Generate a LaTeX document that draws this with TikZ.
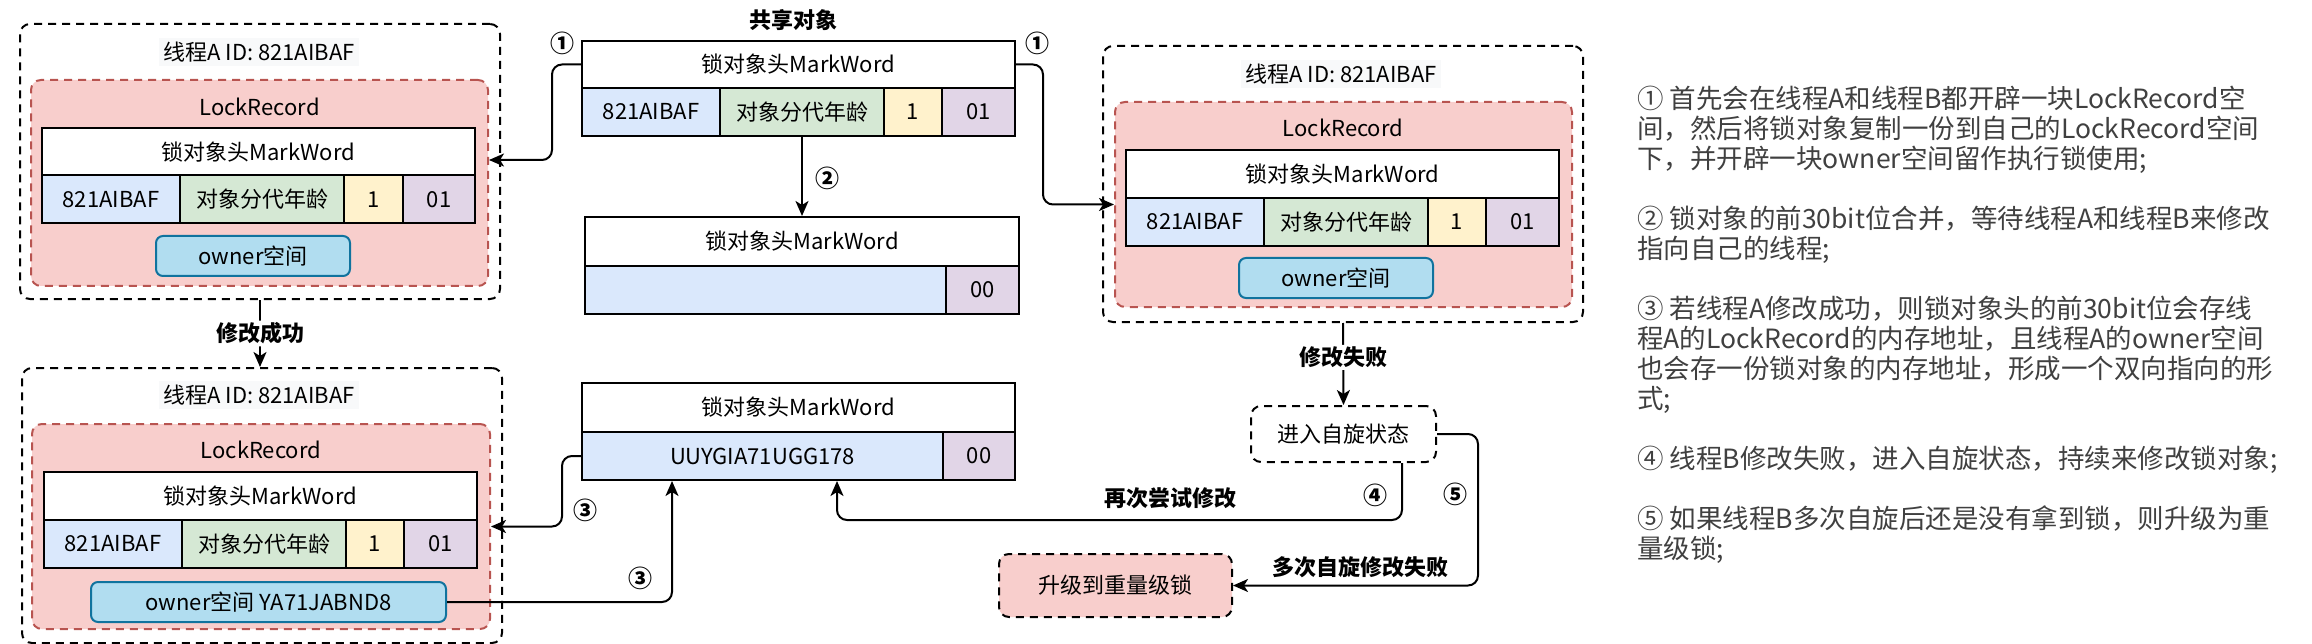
\documentclass[tikz,border=0pt]{standalone}
\usepackage{fontspec}
\setmainfont{Noto Sans CJK SC}
\usetikzlibrary{arrows.meta}
\definecolor{lrfill}{HTML}{F8CECC}
\definecolor{lrdraw}{HTML}{B85450}
\definecolor{idfill}{HTML}{DAE8FC}
\definecolor{agefill}{HTML}{D5E8D4}
\definecolor{biasfill}{HTML}{FFF2CC}
\definecolor{flagfill}{HTML}{E1D5E7}
\definecolor{ownfill}{HTML}{B1DDF0}
\definecolor{owndraw}{HTML}{10739E}
\definecolor{titlebg}{HTML}{F8F9FA}
\definecolor{notetext}{HTML}{404040}

\begin{document}
\begin{tikzpicture}[x=1pt,y=-1pt,
    every node/.style={font=\fontsize{22}{26}\selectfont},
    thread/.style={draw,line width=2pt,dash pattern=on 8pt off 6pt,rounded corners=10pt,inner sep=0pt},
    record/.style={draw=lrdraw,fill=lrfill,line width=2pt,dash pattern=on 8pt off 6pt,rounded corners=10pt,inner sep=0pt},
    head/.style={draw,fill=white,line width=2pt,minimum width=433pt,minimum height=48pt,inner sep=0pt},
    cell/.style={draw,line width=2pt,minimum height=48pt,inner sep=0pt},
    owner/.style={draw=owndraw,fill=ownfill,line width=2pt,rounded corners=7pt,minimum height=40pt,inner sep=0pt},
    title/.style={fill=titlebg,inner sep=4pt},
    tag/.style={font=\fontsize{22}{26}\selectfont\bfseries},
    num/.style={font=\fontsize{24}{28}\selectfont\bfseries},
    link/.style={line width=2pt,rounded corners=10pt,-{Stealth[length=15pt,width=13pt,inset=4pt]}}]
\useasboundingbox (0,0) rectangle (2312,644);

%thread A, first
\node[thread,minimum width=480pt,minimum height=275pt] (thA) at (260,161.5) {};
\node[title] (titA) at (259,52) {线程A ID: 821AIBAF};
\node[record,minimum width=457pt,minimum height=206pt] (recA) at (259.5,183) {};
\node (lrA) at (259.5,107) {LockRecord};
\node[head] (hdA) at (258.5,152) {锁对象头MarkWord};
\node[cell,fill=idfill,minimum width=138pt] (idA) at (111,199.5) {821AIBAF};
\node[cell,fill=agefill,minimum width=164pt] (ageA) at (262,199.5) {对象分代年龄};
\node[cell,fill=biasfill,minimum width=59pt] (biasA) at (373.5,199.5) {1};
\node[cell,fill=flagfill,minimum width=72pt] (flagA) at (439,199.5) {01};
\node[owner,minimum width=194pt] (ownA) at (253,256) {owner空间};

%thread A, second
\node[thread,minimum width=480pt,minimum height=276pt] (thB) at (1343,184) {};
\node[title] (titB) at (1341,74) {线程A ID: 821AIBAF};
\node[record,minimum width=457pt,minimum height=205pt] (recB) at (1343.5,204.5) {};
\node (lrB) at (1343,128) {LockRecord};
\node[head] (hdB) at (1342.5,174) {锁对象头MarkWord};
\node[cell,fill=idfill,minimum width=138pt] (idB) at (1195,222) {821AIBAF};
\node[cell,fill=agefill,minimum width=164pt] (ageB) at (1346,222) {对象分代年龄};
\node[cell,fill=biasfill,minimum width=58pt] (biasB) at (1457,222) {1};
\node[cell,fill=flagfill,minimum width=73pt] (flagB) at (1522.5,222) {01};
\node[owner,minimum width=194pt] (ownB) at (1336,278) {owner空间};

%thread A, after success
\node[thread,minimum width=480pt,minimum height=275pt] (thC) at (262,505.5) {};
\node[title] (titC) at (259,395) {线程A ID: 821AIBAF};
\node[record,minimum width=458pt,minimum height=205pt] (recC) at (261,526.5) {};
\node (lrC) at (261,450) {LockRecord};
\node[head] (hdC) at (260.5,496) {锁对象头MarkWord};
\node[cell,fill=idfill,minimum width=138pt] (idC) at (113,544) {821AIBAF};
\node[cell,fill=agefill,minimum width=164pt] (ageC) at (264,544) {对象分代年龄};
\node[cell,fill=biasfill,minimum width=58pt] (biasC) at (375,544) {1};
\node[cell,fill=flagfill,minimum width=73pt] (flagC) at (440.5,544) {01};
\node[owner,minimum width=355pt] (ownC) at (268.5,602) {owner空间 YA71JABND8};

%shared object
\node[tag] (shTitle) at (793,20) {共享对象};
\node[head,minimum height=47pt] (shHd) at (798.5,64.5) {锁对象头MarkWord};
\node[cell,fill=idfill,minimum width=138pt] (shId) at (651,112) {821AIBAF};
\node[cell,fill=agefill,minimum width=164pt] (shAge) at (802,112) {对象分代年龄};
\node[cell,fill=biasfill,minimum width=58pt] (shBias) at (913,112) {1};
\node[cell,fill=flagfill,minimum width=73pt] (shFlag) at (978.5,112) {01};

%merged mark word
\node[head,minimum width=434pt,minimum height=49pt] (mdHd) at (802,241.5) {锁对象头MarkWord};
\node[cell,fill=idfill,minimum width=361pt] (mdPtr) at (765.5,290) {};
\node[cell,fill=flagfill,minimum width=73pt] (mdFlag) at (982.5,290) {00};

%mark word pointing to thread A
\node[head,minimum height=49pt] (btHd) at (798.5,407.5) {锁对象头MarkWord};
\node[cell,fill=idfill,minimum width=361pt] (btPtr) at (762.5,456) {UUYGIA71UGG178};
\node[cell,fill=flagfill,minimum width=72pt] (btFlag) at (979,456) {00};

%spin and upgrade
\node[thread,fill=white,minimum width=185pt,minimum height=56pt] (spin) at (1343.5,434) {进入自旋状态};
\node[thread,fill=lrfill,minimum width=233pt,minimum height=63pt] (upg) at (1115.5,585.5) {升级到重量级锁};

%links
\draw[link] (shHd.west) -- ++(-29,0) |- ([yshift=23pt]recA.east);
\draw[link] (shHd.east) -- ++(27,0) |- (recB.west);
\draw[link] (shAge.south) -- (mdHd.north);
\draw[link] (thA.south) -- (thA.south |- thC.north) node[tag,fill=white,midway,inner sep=2pt] {修改成功};
\draw[link] (thB.south) -- (spin.north) node[tag,fill=white,pos=0.42,inner sep=2pt] {修改失败};
\draw[link] ([xshift=58.5pt]spin.south) -- ++(0,57) -| ([xshift=74.5pt]btPtr.south);
\draw[link] (spin.east) -- ++(41,0) |- (upg.east);
\draw[link] (btPtr.west) -- ++(-19,0) |- (recC.east);
\draw[link] (ownC.east) -| ([xshift=-90.5pt]btPtr.south);

%labels
\node[num] (n1a) at (562,43) {①};
\node[num] (n1b) at (1037,43) {①};
\node[num] (n2) at (827,178) {②};
\node[num] (n3a) at (585,510) {③};
\node[num] (n3b) at (640,578) {③};
\node[num] (n4) at (1375,495) {④};
\node[num] (n5) at (1455,494) {⑤};
\node[tag] (retry) at (1170,498) {再次尝试修改};
\node[tag] (spinfail) at (1360,567) {多次自旋修改失败};

%notes
\node[anchor=north west,inner sep=0pt,align=left,text=notetext,font=\fontsize{26.5}{30}\selectfont] (notes) at (1637,86)
  {① 首先会在线程A和线程B都开辟一块LockRecord空\\
   间，然后将锁对象复制一份到自己的LockRecord空间\\
   下，并开辟一块owner空间留作执行锁使用;\\[30pt]
   ② 锁对象的前30bit位合并，等待线程A和线程B来修改\\
   指向自己的线程;\\[30pt]
   ③ 若线程A修改成功，则锁对象头的前30bit位会存线\\
   程A的LockRecord的内存地址，且线程A的owner空间\\
   也会存一份锁对象的内存地址，形成一个双向指向的形\\
   式;\\[30pt]
   ④ 线程B修改失败，进入自旋状态，持续来修改锁对象;\\[30pt]
   ⑤ 如果线程B多次自旋后还是没有拿到锁，则升级为重\\
   量级锁;};
\end{tikzpicture}
\end{document}
